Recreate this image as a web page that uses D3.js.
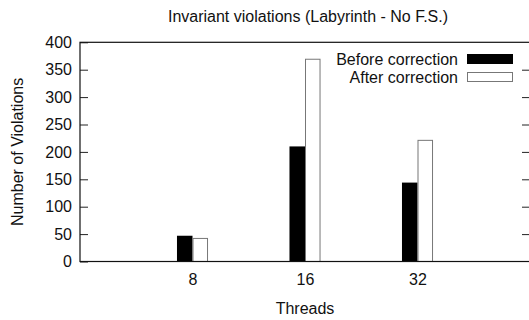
<!DOCTYPE html>
<html>
<head>
<meta charset="utf-8">
<script src="https://cdn.jsdelivr.net/npm/d3@7"></script>
<style>
  html, body { margin: 0; padding: 0; background: #fff; }
  svg { display: block; font-family: "Liberation Sans", Arial, sans-serif; }
</style>
</head>
<body>
<svg id="chart" width="529" height="320"></svg>
<script>
// Thread counts on the x axis
const categories = ["8", "16", "32"];
// Invariant violations per thread count
const beforeCorrection = [47, 210, 144];
const afterCorrection = [43, 370, 222];
const seriesNames = ["Before correction", "After correction"];
const yTicks = [0, 50, 100, 150, 200, 250, 300, 350, 400];

const svg = d3.select("#chart");
const plotLeft = 80, plotRight = 530, plotTop = 42.3, plotBottom = 261.5;

// Histogram slots: categories sit at 0..n-1, with one empty slot each side
const x = d3.scaleLinear().domain([-1, categories.length]).range([plotLeft, plotRight]);
const y = d3.scaleLinear().domain([0, 400]).range([plotBottom, plotTop]);
const barW = x(0.138) - x(0);

// Bars
const g = svg.append("g");
categories.forEach((c, i) => {
  g.append("rect")
    .attr("x", x(i) - barW).attr("y", y(beforeCorrection[i]))
    .attr("width", barW).attr("height", y(0) - y(beforeCorrection[i]))
    .attr("fill", "#000");
  g.append("rect")
    .attr("x", x(i) + 0.5).attr("y", y(afterCorrection[i]) + 0.5)
    .attr("width", barW - 1).attr("height", y(0) - y(afterCorrection[i]) - 0.5)
    .attr("fill", "#fff").attr("stroke", "#777").attr("stroke-width", 1);
});

// Left axis labels and inward ticks (mirrored on the right border)
const yAxis = d3.axisLeft(y).tickValues(yTicks).tickSizeInner(-8).tickSizeOuter(0).tickPadding(8);
const ya = svg.append("g").attr("transform", `translate(${plotLeft},0)`).call(yAxis);
ya.select(".domain").remove();
ya.selectAll("text").attr("font-size", 16).attr("font-family", "Liberation Sans, Arial, sans-serif").attr("fill", "#111");
ya.selectAll("line").attr("stroke", "#222");

const yAxisR = d3.axisRight(y).tickValues(yTicks.slice(1, -1)).tickSizeInner(-8).tickSizeOuter(0).tickFormat("");
const yr = svg.append("g").attr("transform", `translate(${plotRight},0)`).call(yAxisR);
yr.select(".domain").remove();
yr.selectAll("line").attr("stroke", "#222");

// Category labels
const xAxis = d3.axisBottom(x).tickValues(d3.range(categories.length))
  .tickFormat(i => categories[i]).tickSize(0).tickPadding(12);
const xa = svg.append("g").attr("transform", `translate(0,${plotBottom})`).call(xAxis);
xa.select(".domain").remove();
xa.selectAll("text").attr("font-size", 16).attr("font-family", "Liberation Sans, Arial, sans-serif").attr("fill", "#111");

// Plot border
svg.append("rect")
  .attr("x", plotLeft).attr("y", plotTop).attr("width", plotRight - plotLeft).attr("height", plotBottom - plotTop)
  .attr("fill", "none").attr("stroke", "#111").attr("stroke-width", 1.2);

// Titles
svg.append("text").attr("x", 308).attr("y", 21.5).attr("text-anchor", "middle")
  .attr("font-size", 16).attr("fill", "#111").text("Invariant violations (Labyrinth - No F.S.)");
svg.append("text").attr("x", 305).attr("y", 314).attr("text-anchor", "middle")
  .attr("font-size", 16).attr("fill", "#111").text("Threads");
svg.append("text").attr("transform", `translate(23,${(plotTop + plotBottom) / 2}) rotate(-90)`)
  .attr("text-anchor", "middle").attr("font-size", 16).attr("fill", "#111").text("Number of Violations");

// Legend
const legend = svg.append("g");
seriesNames.forEach((name, k) => {
  const cy = 59 + k * 18;
  legend.append("text").attr("x", 458).attr("y", cy).attr("dy", "0.35em")
    .attr("text-anchor", "end").attr("font-size", 16).attr("fill", "#111").text(name);
  legend.append("rect")
    .attr("x", 467.5).attr("y", cy - 4.5).attr("width", 45).attr("height", 9)
    .attr("fill", k === 0 ? "#000" : "#fff")
    .attr("stroke", k === 0 ? "#000" : "#777").attr("stroke-width", 1);
});
</script>
</body>
</html>
